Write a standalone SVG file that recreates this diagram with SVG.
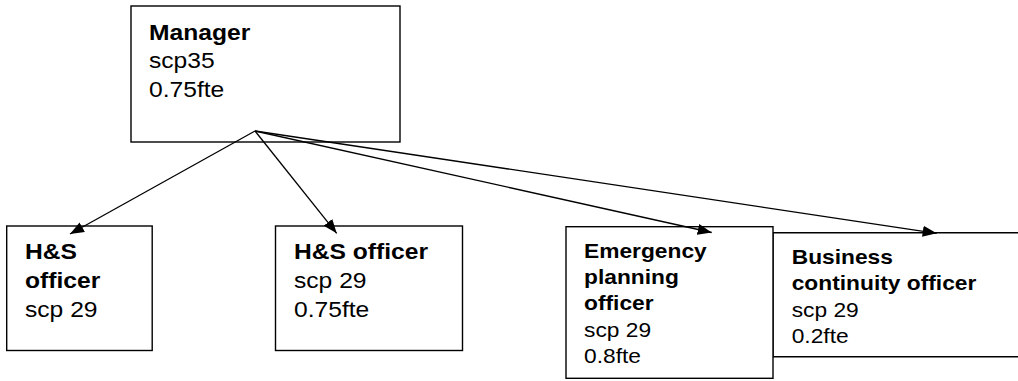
<svg xmlns="http://www.w3.org/2000/svg" width="1018" height="381" viewBox="0 0 1018 381">
<style>
.box{fill:#fff;stroke:#000;stroke-width:1.4}
.edge{fill:none;stroke:#000;stroke-width:1.3}
text{font-family:"Liberation Sans",Arial,sans-serif;fill:#000}
.big{font-size:22.5px}
.small{font-size:20.8px}
.b{font-weight:bold}
</style>
<defs>
<marker id="ah" markerUnits="userSpaceOnUse" markerWidth="15" markerHeight="12" refX="14" refY="5.5" orient="auto">
<path d="M0,0 L14,5.5 L0,11 z" fill="#000"/>
</marker>
</defs>
<rect width="1018" height="381" fill="#fff"/>
<g id="manager">
<rect class="box" x="131" y="6" width="269" height="136"/>
<g transform="translate(149,0) scale(1.095,1)">
<text class="big b" x="0" y="40">Manager</text>
<text class="big" x="0" y="68.3">scp35</text>
<text class="big" x="0" y="96.7">0.75fte</text>
</g>
</g>
<g id="hs1">
<rect class="box" x="6.7" y="226" width="145.5" height="124.5"/>
<g transform="translate(25,0) scale(1.095,1)">
<text class="big b" x="0" y="259">H&amp;S</text>
<text class="big b" x="0" y="288">officer</text>
<text class="big" x="0" y="317">scp 29</text>
</g>
</g>
<g id="hs2">
<rect class="box" x="275.5" y="226" width="187" height="124.5"/>
<g transform="translate(294,0) scale(1.095,1)">
<text class="big b" x="0" y="259">H&amp;S officer</text>
<text class="big" x="0" y="288">scp 29</text>
<text class="big" x="0" y="317">0.75fte</text>
</g>
</g>
<g id="business">
<path class="box" d="M1025,232.7 H773 V356.7 H1025"/>
<g transform="translate(791.7,0) scale(1.095,1)">
<text class="small b" x="0" y="264">Business</text>
<text class="small b" x="0" y="290.4">continuity officer</text>
<text class="small" x="0" y="316.7">scp 29</text>
<text class="small" x="0" y="343">0.2fte</text>
</g>
</g>
<g id="emergency">
<rect class="box" x="566" y="226.7" width="207" height="151.6"/>
<g transform="translate(584,0) scale(1.095,1)">
<text class="small b" x="0" y="257.7">Emergency</text>
<text class="small b" x="0" y="284.1">planning</text>
<text class="small b" x="0" y="310.5">officer</text>
<text class="small" x="0" y="336.9">scp 29</text>
<text class="small" x="0" y="363.3">0.8fte</text>
</g>
</g>
<g id="connectors">
<line class="edge" x1="255" y1="131" x2="70" y2="234" marker-end="url(#ah)"/>
<line class="edge" x1="255" y1="131" x2="336.7" y2="233.3" marker-end="url(#ah)"/>
<line class="edge" x1="255" y1="131" x2="711.7" y2="232.5" marker-end="url(#ah)"/>
<line class="edge" x1="255" y1="131" x2="936.7" y2="233.3" marker-end="url(#ah)"/>
</g>
</svg>
